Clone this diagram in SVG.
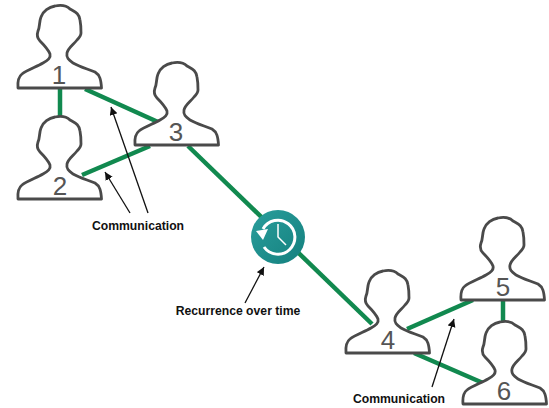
<svg xmlns="http://www.w3.org/2000/svg" width="549" height="408" viewBox="0 0 549 408">
<style>
.link{stroke:#11894f;stroke-width:4.5;fill:none}
.person{fill:#fff;stroke:#4a4a4a;stroke-width:2.8;stroke-linejoin:round}
.num{font-family:"Liberation Sans",Arial,sans-serif;font-size:26px;fill:#555;text-anchor:middle}
.lbl{font-family:"Liberation Sans",Arial,sans-serif;font-size:12.2px;font-weight:bold;fill:#111;text-anchor:middle}
.ann{stroke:#111;stroke-width:1.3;fill:none;marker-end:url(#ah)}
</style>
<defs>
<marker id="ah" markerUnits="userSpaceOnUse" markerWidth="10" markerHeight="10" refX="8" refY="4" orient="auto"><path d="M0 0L8 4L0 8Z" fill="#111"/></marker>
<path id="p" d="M18 88C17.500 82 18 77 22 74C27 70 36 67 43 63C48 60 51 58 50 54C48 49 44 45 40 41C37 38 37 34 38 31C40 27 39 22 41 17C43 11 49 7 55 6C60 5 66 5 70 9C75 12 79 13 80 20C81 25 81 29 81 33C81 36 79 38 77 40C73 45 68 48 67 53C66 58 69 60 73 63C80 67 88 69 95 72C100 75 101 80 101.500 88Z"/>
<linearGradient id="t" x1="0" y1="0" x2="1" y2="1"><stop offset="0" stop-color="#2a9e9c"/><stop offset="1" stop-color="#14807e"/></linearGradient>
</defs>
<g id="connectors">
<path class="link" d="M60 88V117"/>
<path class="link" d="M85 89L158 122"/>
<path class="link" d="M82 175L150 146"/>
<path class="link" d="M188 146L372 324"/>
<path class="link" d="M407 329L473 300"/>
<path class="link" d="M414 353L483 383"/>
<path class="link" d="M503 300V323"/>
</g>
<g id="n1"><use href="#p" class="person"/><text class="num" x="59" y="84">1</text></g>
<g id="n2"><use href="#p" class="person" x="0" y="111"/><text class="num" x="60" y="195">2</text></g>
<g id="n3"><use href="#p" class="person" x="117" y="57"/><text class="num" x="176" y="141">3</text></g>
<g id="n4"><use href="#p" class="person" x="328" y="265"/><text class="num" x="388" y="349">4</text></g>
<g id="n5"><use href="#p" class="person" x="443" y="212"/><text class="num" x="503" y="296">5</text></g>
<g id="n6"><use href="#p" class="person" x="445" y="316"/><text class="num" x="504" y="400">6</text></g>
<g id="clock">
<circle cx="278" cy="237" r="27" fill="url(#t)"/>
<path d="M263 229A17 17 0 1 1 264 247" fill="none" stroke="#fff" stroke-width="3"/>
<path d="M256 231L268 229L263 240Z" fill="#fff"/>
<path d="M278 224V237L286 245" fill="none" stroke="#fff" stroke-width="1.5"/>
</g>
<g id="annotations">
<path class="ann" d="M148 213L111 107"/>
<path class="ann" d="M130 213L105 172"/>
<path class="ann" d="M245 303L264 267"/>
<path class="ann" d="M432 387L454 319"/>
</g>
<text class="lbl" x="138" y="230">Communication</text>
<text class="lbl" x="238" y="315">Recurrence over time</text>
<text class="lbl" x="399" y="403">Communication</text>
</svg>
